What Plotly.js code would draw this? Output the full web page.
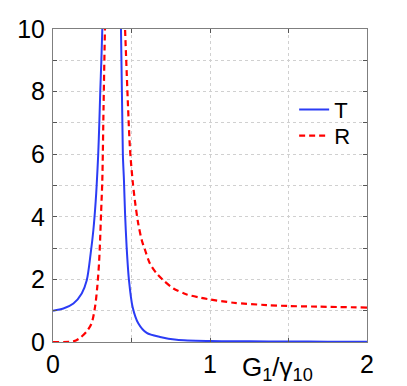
<!DOCTYPE html>
<html>
<head>
<meta charset="utf-8">
<script src="https://cdn.plot.ly/plotly-3.0.1.min.js"></script>
<style>
  body { margin: 0; background: #fff; }
  #plot { width: 407px; height: 386px; }
</style>
</head>
<body>
<div id="plot"></div>
<script>
// values; null splits the branches that run off the top
var xT = [0, 0.066, 0.13, 0.183, 0.215, 0.24, 0.257, 0.272, 0.278, 0.288, 0.295, 0.301, 0.308, 0.314, 0.318,
          null,
          0.428, 0.433, 0.445, 0.452, 0.459, 0.469, 0.484, 0.507, 0.543, 0.597, 0.682, 0.788, 1.0, 1.25, 1.5, 1.75, 2.0];
var yT = [1.0, 1.07, 1.23, 1.55, 1.97, 2.83, 3.57, 4.5, 5.0, 6.0, 7.0, 8.0, 9.0, 10.0, 10.6,
          null,
          10.6, 10.0, 6.0, 5.16, 4.1, 3.04, 1.97, 1.12, 0.6, 0.29, 0.16, 0.07, 0.03, 0.02, 0.015, 0.01, 0.01];

var xR = [0, 0.13, 0.172, 0.215, 0.246, 0.268, 0.282, 0.293, 0.3, 0.306, 0.314, 0.322, 0.331, 0.335,
          null,
          0.455, 0.459, 0.49, 0.507, 0.522, 0.543, 0.565, 0.586, 0.618, 0.66, 0.703, 0.767, 0.852, 0.936,
          1.0, 1.149, 1.36, 1.5, 1.68, 2.0];
var yR = [0, 0.02, 0.13, 0.34, 0.6, 1.13, 1.76, 2.5, 3.26, 4.1, 5.16, 7.5, 10.0, 10.6,
          null,
          10.6, 10.0, 6.2, 5.16, 4.5, 3.78, 3.26, 2.94, 2.5, 2.19, 1.97, 1.71, 1.52, 1.42,
          1.36, 1.255, 1.18, 1.15, 1.13, 1.1];

var xTicks = [0, 0.5, 1, 1.5, 2];
var xTickText = ['0', '', '1', '', '2'];
var yTicks = [0, 1, 2, 3, 4, 5, 6, 7, 8, 9, 10];
var yTickText = ['0', '', '2', '', '4', '', '6', '', '8', '', '10'];

var font = 'Liberation Sans, Arial, sans-serif';

var data = [
    {
        x: xT, y: yT, name: 'T', type: 'scatter', mode: 'lines', legend: 'legend',
        line: {color: '#2b3cf5', width: 2, shape: 'spline', smoothing: 0.8}
    },
    {
        x: xR, y: yR, name: 'R', type: 'scatter', mode: 'lines', legend: 'legend2',
        line: {color: '#ff0000', width: 2.2, dash: '6px,4px', shape: 'spline', smoothing: 0.8}
    }
];

var axisStyle = {
    showline: true,
    linecolor: '#7f7f7f',
    linewidth: 1,
    mirror: 'ticks',
    ticks: 'inside',
    ticklen: 4,
    tickcolor: '#555',
    showgrid: true,
    gridcolor: '#d0d0d0',
    griddash: 'dot',
    gridwidth: 1,
    zeroline: false,
    tickfont: {family: font, size: 25, color: '#000'}
};

var legendStyle = {
    xanchor: 'left', yanchor: 'middle',
    bgcolor: 'rgba(255,255,255,0)',
    font: {family: font, size: 22, color: '#000'}
};

var layout = {
    width: 407,
    height: 386,
    margin: {l: 53, r: 40, t: 29, b: 44},
    paper_bgcolor: '#fff',
    plot_bgcolor: '#fff',
    showlegend: true,
    legend: Object.assign({}, legendStyle, {x: 0.768, y: 0.742}),
    legend2: Object.assign({}, legendStyle, {x: 0.768, y: 0.659}),
    xaxis: Object.assign({}, axisStyle, {
        range: [0, 2],
        tickvals: xTicks,
        ticktext: xTickText
    }),
    yaxis: Object.assign({}, axisStyle, {
        range: [0, 10],
        tickvals: yTicks,
        ticktext: yTickText,
        ticklabelstandoff: 2
    }),
    annotations: [{
        text: 'G<sub>1</sub>/γ<sub>10</sub>',
        xref: 'x', yref: 'paper',
        x: 1.43, y: -0.025,
        xanchor: 'center', yanchor: 'top',
        showarrow: false,
        font: {family: font, size: 26, color: '#000'}
    }]
};

Plotly.newPlot('plot', data, layout, {staticPlot: true});
</script>
</body>
</html>
